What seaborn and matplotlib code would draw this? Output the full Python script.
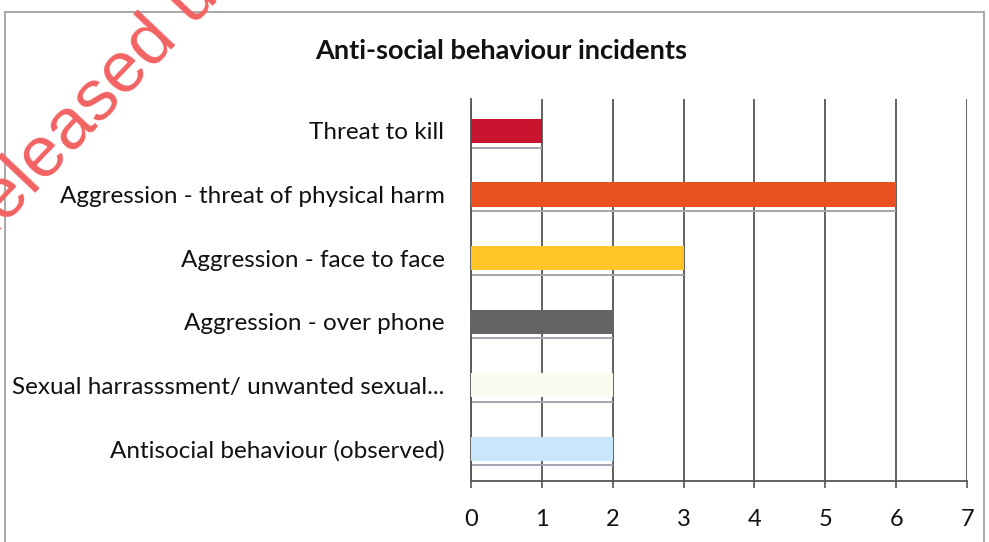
import matplotlib
matplotlib.use("Agg")
import matplotlib.pyplot as plt
import seaborn as sns
import pandas as pd
from matplotlib.patches import Rectangle

categories = [
    "Threat to kill",
    "Aggression - threat of physical harm",
    "Aggression - face to face",
    "Aggression - over phone",
    "Sexual harrasssment/ unwanted sexual...",
    "Antisocial behaviour (observed)",
]
values = [1, 6, 3, 2, 2, 2]
colors = ["#C8142E", "#E8511F", "#FFC526", "#646464", "#FCFBEF", "#C9E6FA"]
x_ticks = [0, 1, 2, 3, 4, 5, 6, 7]
title = "Anti-social behaviour incidents"

sns.set_theme(style="white")
plt.rcParams["font.family"] = ["Lato", "DejaVu Sans"]

df = pd.DataFrame({"category": categories, "value": values})

fig = plt.figure(figsize=(9.89, 5.42), dpi=100)
ax = fig.add_axes([0.476, 0.113, 0.502, 0.704])

# frame of the chart area
fig.patches.append(Rectangle((0.005, -0.05), 0.99, 1.028, transform=fig.transFigure,
                             fill=False, edgecolor="#9a9a9a", linewidth=1.2, zorder=0))

ax.set_axisbelow(True)
ax.grid(axis="x", color="#555555", linewidth=1.3)
ax.grid(axis="y", visible=False)

sns.barplot(data=df, x="value", y="category", hue="category", palette=colors,
            orient="h", width=0.38, legend=False, ax=ax, saturation=1,
            linewidth=0, zorder=3)

# thin shadow line under each bar
for i, v in enumerate(values):
    ax.hlines(i + 0.26, 0, v, color="#a0a6b0", linewidth=1.4, zorder=2)

ax.set_xlim(0, 7)
ax.set_ylim(len(categories) - 0.5, -0.5)
ax.set_xticks(x_ticks)
ax.set_xticklabels([str(t) for t in x_ticks], fontsize=17, color="#111111")
ax.tick_params(axis="x", which="both", bottom=True, length=5, width=1.2,
               color="#555555", pad=15)
ax.tick_params(axis="y", left=False, pad=13, labelsize=17.5, labelcolor="#111111")
ax.set_xlabel("")
ax.set_ylabel("")
for s in ["top", "right"]:
    ax.spines[s].set_visible(False)
for s in ["left", "bottom"]:
    ax.spines[s].set_visible(True)
    ax.spines[s].set_color("#555555")
    ax.spines[s].set_linewidth(1.3)

fig.text(0.507, 0.905, title, ha="center", va="center", fontsize=19.5,
         fontweight="bold", color="#111111")

# watermark
fig.text(-0.0313, 0.5148, "Released under", rotation=46.5, rotation_mode="anchor",
         fontsize=52, color="#F26262", ha="left", va="baseline",
         family=["Liberation Sans", "DejaVu Sans"], zorder=10)

fig.savefig("out.png", dpi=100)
